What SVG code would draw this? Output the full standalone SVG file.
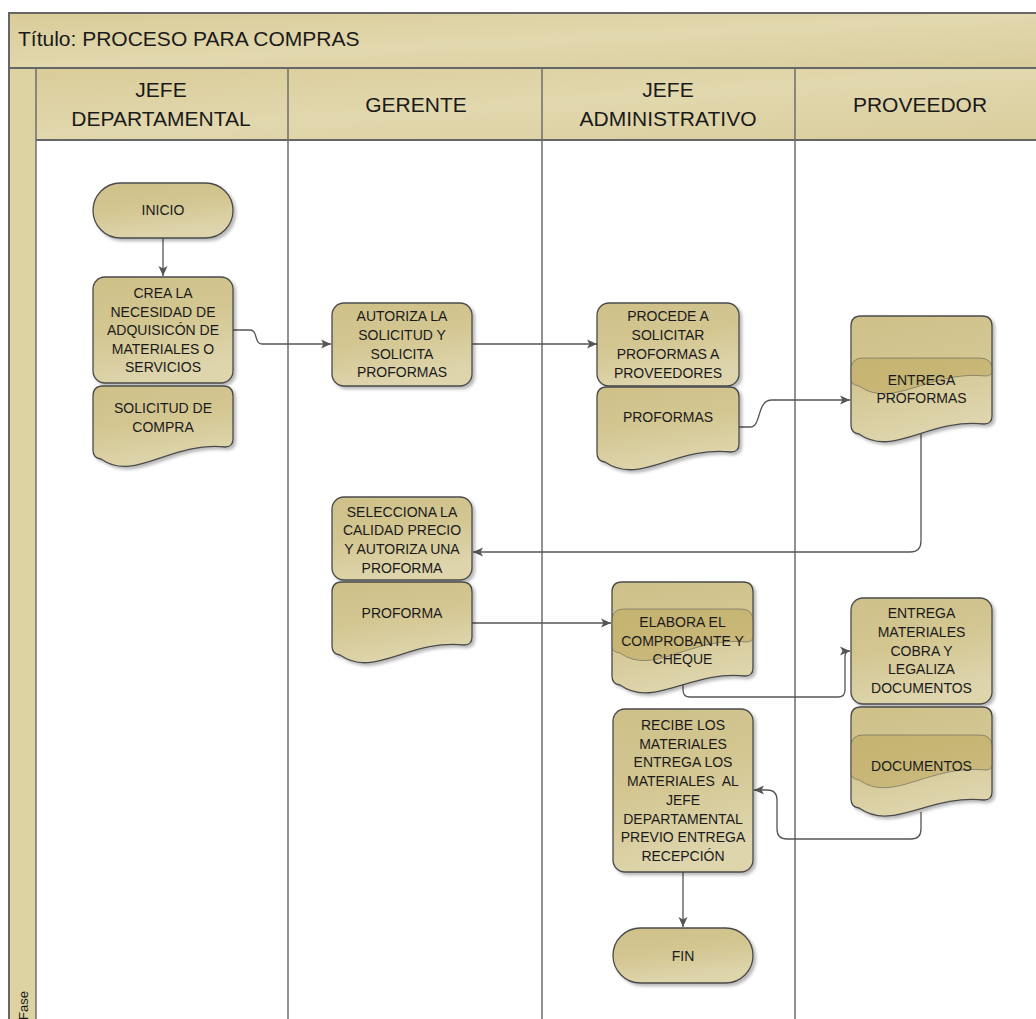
<svg xmlns="http://www.w3.org/2000/svg" width="1036" height="1019" viewBox="0 0 1036 1019">
  <style>
    .frame { stroke: #666; stroke-width: 2; fill: none; }
    .lane { stroke: #6e6e6e; stroke-width: 1.5; fill: none; }
    .hdr { font-family: "Liberation Sans", Arial, sans-serif; font-size: 21px; fill: #1a1a1a; text-anchor: middle; }
    .title { font-family: "Liberation Sans", Arial, sans-serif; font-size: 21px; fill: #1a1a1a; }
    .shape { fill: url(#nodeFill); stroke: #4a4a4a; stroke-width: 1.3; filter: url(#shadow); }
    .band { fill: #b9a355; fill-opacity: 0.5; stroke: #5a5a5a; stroke-opacity: 0.55; stroke-width: 1; }
    .lbl { font-family: "Liberation Sans", Arial, sans-serif; font-size: 14px; fill: #1a1a1a; text-anchor: middle; white-space: pre; }
    .conn { stroke: #555; stroke-width: 1.3; fill: none; marker-end: url(#arrow); }
  </style>
  <defs>
    <linearGradient id="nodeFill" x1="0" y1="0" x2="0.3" y2="1">
      <stop offset="0" stop-color="#cfc089"/>
      <stop offset="0.5" stop-color="#d3c691"/>
      <stop offset="1" stop-color="#ded5ad"/>
    </linearGradient>
    <linearGradient id="headFill" x1="0" y1="0" x2="1" y2="1">
      <stop offset="0" stop-color="#d9cc98"/>
      <stop offset="0.5" stop-color="#e2d8ae"/>
      <stop offset="1" stop-color="#d9cd9c"/>
    </linearGradient>
    <filter id="shadow" x="-10%" y="-10%" width="130%" height="130%">
      <feDropShadow dx="2.5" dy="2.5" stdDeviation="1.5" flood-color="#000" flood-opacity="0.28"/>
    </filter>
    <marker id="arrow" markerUnits="userSpaceOnUse" markerWidth="11" markerHeight="10" refX="10" refY="5" orient="auto">
      <path d="M0,0.5 L10,5 L0,9.5 L2.5,5 Z" fill="#555"/>
    </marker>
  </defs>

  <rect x="0" y="0" width="1036" height="1019" fill="#fff"/>

  <!-- pool: title band, lane headers, phase strip -->
  <g id="pool">
    <rect x="9" y="13" width="1040" height="55" fill="url(#headFill)"/>
    <rect x="9" y="68" width="1040" height="72" fill="url(#headFill)"/>
    <rect x="9" y="68" width="27" height="960" fill="#ddd2a2"/>
    <path class="frame" d="M9,1019 V13 H1036"/>
    <path class="frame" d="M9,68 H1036"/>
    <path class="frame" d="M36,140 H1036"/>
    <path class="lane" d="M36,68 V1019 M288,68 V1019 M542,68 V1019 M795,68 V1019"/>
    <text class="title" x="18" y="46">Título: PROCESO PARA COMPRAS</text>
    <text class="hdr" x="161" y="97">JEFE</text>
    <text class="hdr" x="161" y="126">DEPARTAMENTAL</text>
    <text class="hdr" x="416" y="112">GERENTE</text>
    <text class="hdr" x="668" y="97">JEFE</text>
    <text class="hdr" x="668" y="126">ADMINISTRATIVO</text>
    <text class="hdr" x="920" y="112">PROVEEDOR</text>
    <text font-family="Liberation Sans, Arial, sans-serif" font-size="13" fill="#1a1a1a" transform="translate(28,1020) rotate(-90)">Fase</text>
  </g>

  <!-- connectors -->
  <g id="connectors">
    <path class="conn" d="M163,238 V276"/>
    <path class="conn" d="M233,330 H250 C258,330 254,344 262,344 H331"/>
    <path class="conn" d="M472,344 H597"/>
    <path class="conn" d="M739,427 H750 C762,427 756,400 772,400 H850"/>
    <path class="conn" d="M921,432 V541 Q921,552 910,552 H473"/>
    <path class="conn" d="M472,623 H611"/>
    <path class="conn" d="M683,684 V690 Q683,697 690,697 H838 Q845,697 845,690 V657 Q845,651 850,651"/>
    <path class="conn" d="M921,812 V829 Q921,839 911,839 H787 Q777,839 777,829 V800 Q777,790 767,790 H754"/>
    <path class="conn" d="M683,872 V927"/>
  </g>

  <g id="inicio">
    <rect class="shape" x="93" y="183" width="140" height="55" rx="27.5"/>
    <text class="lbl" x="163" y="215">INICIO</text>
  </g>

  <g id="crea-necesidad">
    <rect class="shape" x="93" y="277" width="140" height="106" rx="12"/>
    <text class="lbl" x="163" y="298">CREA LA</text>
    <text class="lbl" x="163" y="316.5">NECESIDAD DE</text>
    <text class="lbl" x="163" y="335">ADQUISICÓN DE</text>
    <text class="lbl" x="163" y="353.5">MATERIALES O</text>
    <text class="lbl" x="163" y="372">SERVICIOS</text>
  </g>

  <g id="solicitud-compra">
    <path class="shape" d="M93,396 Q93,386 103,386 H223 Q233,386 233,396 V439 Q233,447 225,447 C170,441 135,483 101,459 Q93,458 93,450 Z"/>
    <text class="lbl" x="163" y="413">SOLICITUD DE</text>
    <text class="lbl" x="163" y="432">COMPRA</text>
  </g>

  <g id="autoriza-solicitud">
    <rect class="shape" x="332" y="303" width="140" height="83" rx="12"/>
    <text class="lbl" x="402" y="321">AUTORIZA LA</text>
    <text class="lbl" x="402" y="340">SOLICITUD Y</text>
    <text class="lbl" x="402" y="359">SOLICITA</text>
    <text class="lbl" x="402" y="377">PROFORMAS</text>
  </g>

  <g id="procede-solicitar">
    <rect class="shape" x="597" y="303" width="142" height="83" rx="12"/>
    <text class="lbl" x="668" y="321">PROCEDE A</text>
    <text class="lbl" x="668" y="340">SOLICITAR</text>
    <text class="lbl" x="668" y="358.5">PROFORMAS A</text>
    <text class="lbl" x="668" y="377.5">PROVEEDORES</text>
  </g>

  <g id="proformas">
    <path class="shape" d="M597,397 Q597,387 607,387 H729 Q739,387 739,397 V444 Q739,452 731,452 C675,446 640,486 605,462 Q597,461 597,453 Z"/>
    <text class="lbl" x="668" y="422">PROFORMAS</text>
  </g>

  <g id="entrega-proformas">
    <path class="shape" d="M851,326 Q851,316 861,316 H982 Q992,316 992,326 V416 Q992,424 984,424 C929,418 893,458 859,434 Q851,433 851,425 Z"/>
    <path class="band" d="M851,370 Q851,358 863,358 H980 Q992,358 992,370 V370 Q992,376 986,376 C929,370 893,410 859,386 Q851,385 851,379 Z"/>
    <text class="lbl" x="921.5" y="385">ENTREGA</text>
    <text class="lbl" x="921.5" y="403">PROFORMAS</text>
  </g>

  <g id="selecciona-proforma">
    <rect class="shape" x="332" y="497" width="140" height="83" rx="12"/>
    <text class="lbl" x="402" y="517">SELECCIONA LA</text>
    <text class="lbl" x="402" y="535">CALIDAD PRECIO</text>
    <text class="lbl" x="402" y="554">Y AUTORIZA UNA</text>
    <text class="lbl" x="402" y="573">PROFORMA</text>
  </g>

  <g id="proforma">
    <path class="shape" d="M332,592 Q332,582 342,582 H462 Q472,582 472,592 V637 Q472,645 464,645 C409,639 374,679 340,655 Q332,654 332,646 Z"/>
    <text class="lbl" x="402" y="618">PROFORMA</text>
  </g>

  <g id="elabora-comprobante">
    <path class="shape" d="M612,592 Q612,582 622,582 H743 Q753,582 753,592 V668 Q753,676 745,676 C690,670 654,709 620,685 Q612,684 612,676 Z"/>
    <path class="band" d="M612,621 Q612,609 624,609 H741 Q753,609 753,621 V636 Q753,642 747,642 C690,636 654,677 620,653 Q612,652 612,646 Z"/>
    <text class="lbl" x="682.5" y="627">ELABORA EL</text>
    <text class="lbl" x="682.5" y="646">COMPROBANTE Y</text>
    <text class="lbl" x="682.5" y="664">CHEQUE</text>
  </g>

  <g id="entrega-materiales">
    <rect class="shape" x="851" y="598" width="141" height="106" rx="12"/>
    <text class="lbl" x="921.5" y="618">ENTREGA</text>
    <text class="lbl" x="921.5" y="637">MATERIALES</text>
    <text class="lbl" x="921.5" y="656">COBRA Y</text>
    <text class="lbl" x="921.5" y="674">LEGALIZA</text>
    <text class="lbl" x="921.5" y="693">DOCUMENTOS</text>
  </g>

  <g id="documentos">
    <path class="shape" d="M851,717 Q851,707 861,707 H982 Q992,707 992,717 V792 Q992,800 984,800 C929,794 893,832 859,808 Q851,807 851,799 Z"/>
    <path class="band" d="M851,747 Q851,735 863,735 H980 Q992,735 992,747 V764 Q992,770 986,770 C929,764 893,804 859,780 Q851,779 851,773 Z"/>
    <text class="lbl" x="921.5" y="771">DOCUMENTOS</text>
  </g>

  <g id="recibe-materiales">
    <rect class="shape" x="613" y="709" width="140" height="163" rx="12"/>
    <text class="lbl" x="683" y="730">RECIBE LOS</text>
    <text class="lbl" x="683" y="748.7">MATERIALES</text>
    <text class="lbl" x="683" y="767.4">ENTREGA LOS</text>
    <text class="lbl" x="683" y="786">MATERIALES  AL</text>
    <text class="lbl" x="683" y="805">JEFE</text>
    <text class="lbl" x="683" y="823.5">DEPARTAMENTAL</text>
    <text class="lbl" x="683" y="842">PREVIO ENTREGA</text>
    <text class="lbl" x="683" y="860.7">RECEPCIÓN</text>
  </g>

  <g id="fin">
    <rect class="shape" x="613" y="928" width="140" height="55" rx="27.5"/>
    <text class="lbl" x="683" y="961">FIN</text>
  </g>
</svg>
